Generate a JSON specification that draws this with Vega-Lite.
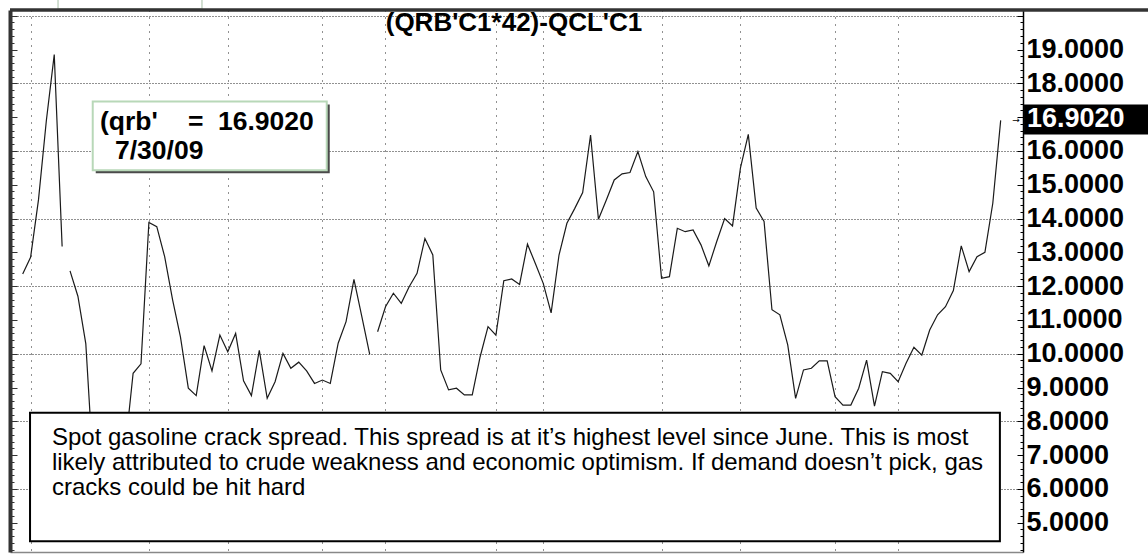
{
  "$schema": "https://vega.github.io/schema/vega-lite/v6.json",
  "width": 1013,
  "height": 542,
  "autosize": {"type": "none"},
  "padding": {"left": 10, "top": 10, "right": 125, "bottom": 3},
  "background": "white",
  "config": {"view": {"stroke": null}, "font": "Liberation Sans"},
  "datasets": {
    "spread": [
      {"i": 0, "v": 12.36, "s": "a"}, {"i": 1, "v": 12.85, "s": "a"}, {"i": 2, "v": 14.55, "s": "a"},
      {"i": 3, "v": 16.9, "s": "a"}, {"i": 4, "v": 18.85, "s": "a"}, {"i": 5, "v": 13.17, "s": "a"},
      {"i": 6, "v": 12.45, "s": "b"}, {"i": 7, "v": 11.7, "s": "b"}, {"i": 8, "v": 10.3, "s": "b"},
      {"i": 9, "v": 6.4, "s": "b"}, {"i": 10, "v": 6.3, "s": "b"}, {"i": 11, "v": 6.6, "s": "b"},
      {"i": 12, "v": 6.9, "s": "b"}, {"i": 13, "v": 7.2, "s": "b"}, {"i": 14, "v": 9.42, "s": "b"},
      {"i": 15, "v": 9.7, "s": "b"}, {"i": 16, "v": 13.88, "s": "b"}, {"i": 17, "v": 13.76, "s": "b"},
      {"i": 18, "v": 12.87, "s": "b"}, {"i": 19, "v": 11.6, "s": "b"}, {"i": 20, "v": 10.5, "s": "b"},
      {"i": 21, "v": 8.98, "s": "b"}, {"i": 22, "v": 8.76, "s": "b"}, {"i": 23, "v": 10.24, "s": "b"},
      {"i": 24, "v": 9.49, "s": "b"}, {"i": 25, "v": 10.55, "s": "b"}, {"i": 26, "v": 10.06, "s": "b"},
      {"i": 27, "v": 10.6, "s": "b"}, {"i": 28, "v": 9.2, "s": "b"}, {"i": 29, "v": 8.76, "s": "b"},
      {"i": 30, "v": 10.1, "s": "b"}, {"i": 31, "v": 8.68, "s": "b"}, {"i": 32, "v": 9.17, "s": "b"},
      {"i": 33, "v": 10.01, "s": "b"}, {"i": 34, "v": 9.57, "s": "b"}, {"i": 35, "v": 9.75, "s": "b"},
      {"i": 36, "v": 9.49, "s": "b"}, {"i": 37, "v": 9.12, "s": "b"}, {"i": 38, "v": 9.22, "s": "b"},
      {"i": 39, "v": 9.12, "s": "b"}, {"i": 40, "v": 10.31, "s": "b"}, {"i": 41, "v": 10.95, "s": "b"},
      {"i": 42, "v": 12.2, "s": "b"}, {"i": 43, "v": 11.1, "s": "b"}, {"i": 44, "v": 9.98, "s": "b"},
      {"i": 45, "v": 10.65, "s": "c"}, {"i": 46, "v": 11.39, "s": "c"}, {"i": 47, "v": 11.79, "s": "c"},
      {"i": 48, "v": 11.49, "s": "c"}, {"i": 49, "v": 11.98, "s": "c"}, {"i": 50, "v": 12.38, "s": "c"},
      {"i": 51, "v": 13.41, "s": "c"}, {"i": 52, "v": 12.92, "s": "c"}, {"i": 53, "v": 9.52, "s": "c"},
      {"i": 54, "v": 8.93, "s": "c"}, {"i": 55, "v": 8.98, "s": "c"}, {"i": 56, "v": 8.78, "s": "c"},
      {"i": 57, "v": 8.78, "s": "c"}, {"i": 58, "v": 9.91, "s": "c"}, {"i": 59, "v": 10.8, "s": "c"},
      {"i": 60, "v": 10.55, "s": "c"}, {"i": 61, "v": 12.16, "s": "c"}, {"i": 62, "v": 12.21, "s": "c"},
      {"i": 63, "v": 12.05, "s": "c"}, {"i": 64, "v": 13.24, "s": "c"}, {"i": 65, "v": 12.67, "s": "c"},
      {"i": 66, "v": 12.08, "s": "c"}, {"i": 67, "v": 11.21, "s": "c"}, {"i": 68, "v": 12.92, "s": "c"},
      {"i": 69, "v": 13.86, "s": "c"}, {"i": 70, "v": 14.3, "s": "c"}, {"i": 71, "v": 14.77, "s": "c"},
      {"i": 72, "v": 16.47, "s": "c"}, {"i": 73, "v": 13.98, "s": "c"}, {"i": 74, "v": 14.55, "s": "c"},
      {"i": 75, "v": 15.14, "s": "c"}, {"i": 76, "v": 15.32, "s": "c"}, {"i": 77, "v": 15.36, "s": "c"},
      {"i": 78, "v": 15.98, "s": "c"}, {"i": 79, "v": 15.24, "s": "c"}, {"i": 80, "v": 14.79, "s": "c"},
      {"i": 81, "v": 12.23, "s": "c"}, {"i": 82, "v": 12.28, "s": "c"}, {"i": 83, "v": 13.71, "s": "c"},
      {"i": 84, "v": 13.61, "s": "c"}, {"i": 85, "v": 13.66, "s": "c"}, {"i": 86, "v": 13.22, "s": "c"},
      {"i": 87, "v": 12.6, "s": "c"}, {"i": 88, "v": 13.32, "s": "c"}, {"i": 89, "v": 14.0, "s": "c"},
      {"i": 90, "v": 13.78, "s": "c"}, {"i": 91, "v": 15.49, "s": "c"}, {"i": 92, "v": 16.49, "s": "c"},
      {"i": 93, "v": 14.31, "s": "c"}, {"i": 94, "v": 13.91, "s": "c"}, {"i": 95, "v": 11.3, "s": "c"},
      {"i": 96, "v": 11.15, "s": "c"}, {"i": 97, "v": 10.26, "s": "c"}, {"i": 98, "v": 8.68, "s": "c"},
      {"i": 99, "v": 9.52, "s": "c"}, {"i": 100, "v": 9.57, "s": "c"}, {"i": 101, "v": 9.79, "s": "c"},
      {"i": 102, "v": 9.79, "s": "c"}, {"i": 103, "v": 8.73, "s": "c"}, {"i": 104, "v": 8.48, "s": "c"},
      {"i": 105, "v": 8.48, "s": "c"}, {"i": 106, "v": 8.98, "s": "c"}, {"i": 107, "v": 9.81, "s": "c"},
      {"i": 108, "v": 8.45, "s": "c"}, {"i": 109, "v": 9.47, "s": "c"}, {"i": 110, "v": 9.42, "s": "c"},
      {"i": 111, "v": 9.17, "s": "c"}, {"i": 112, "v": 9.72, "s": "c"}, {"i": 113, "v": 10.19, "s": "c"},
      {"i": 114, "v": 9.96, "s": "c"}, {"i": 115, "v": 10.7, "s": "c"}, {"i": 116, "v": 11.15, "s": "c"},
      {"i": 117, "v": 11.39, "s": "c"}, {"i": 118, "v": 11.87, "s": "c"}, {"i": 119, "v": 13.19, "s": "c"},
      {"i": 120, "v": 12.43, "s": "c"}, {"i": 121, "v": 12.87, "s": "c"}, {"i": 122, "v": 13.0, "s": "c"},
      {"i": 123, "v": 14.45, "s": "c"}, {"i": 124, "v": 16.902, "s": "c"}
    ]
  },
  "resolve": {"axis": {"y": "independent"}},
  "layer": [
    {
      "data": {"name": "spread"},
      "mark": {"type": "line", "color": "#1a1a1a", "strokeWidth": 1.2},
      "encoding": {
        "x": {
          "field": "i", "type": "quantitative",
          "scale": {"domain": [-1.61, 126.83], "nice": false, "zero": false},
          "axis": {
            "values": [1, 16, 26, 38, 46, 60, 66, 81, 91, 103, 111],
            "labels": false, "ticks": false, "title": null,
            "domain": true, "domainColor": "#888888", "domainWidth": 1.5,
            "grid": true, "gridColor": "#222222", "gridDash": [1, 6], "gridWidth": 1
          }
        },
        "y": {
          "field": "v", "type": "quantitative",
          "scale": {"domain": [4.133, 20.169], "nice": false, "zero": false},
          "axis": {
            "orient": "right", "title": null,
            "values": [4.2,4.4,4.6,4.8,5,5.2,5.4,5.6,5.8,6,6.2,6.4,6.6,6.8,7,7.2,7.4,7.6,7.8,8,8.2,8.4,8.6,8.8,9,9.2,9.4,9.6,9.8,10,10.2,10.4,10.6,10.8,11,11.2,11.4,11.6,11.8,12,12.2,12.4,12.6,12.8,13,13.2,13.4,13.6,13.8,14,14.2,14.4,14.6,14.8,15,15.2,15.4,15.6,15.8,16,16.2,16.4,16.6,16.8,17,17.2,17.4,17.6,17.8,18,18.2,18.4,18.6,18.8,19,19.2,19.4,19.6,19.8,20],
            "domainColor": "#000000", "domainWidth": 1.5,
            "tickColor": "#000000",
            "tickSize": {"condition": {"test": "abs(datum.value - round(datum.value)) < 0.01", "value": -6}, "value": -3},
            "labelPadding": 9,
            "labelExpr": "abs(datum.value - round(datum.value)) < 0.01 && datum.value >= 5 && datum.value <= 19 ? format(datum.value, '.4f') : ''",
            "labelFont": "Liberation Sans", "labelFontSize": 27, "labelFontWeight": "bold", "labelColor": "#000000",
            "labelOverlap": false, "labelBound": false, "labelFlush": false, "labelBaseline": "middle",
            "grid": true, "gridColor": "#222222", "gridDash": [1, 2], "gridWidth": 1,
            "gridOpacity": {"condition": {"test": "abs(datum.value / 2 - round(datum.value / 2)) < 0.01", "value": 1}, "value": 0}
          }
        },
        "detail": {"field": "s", "type": "nominal"}
      }
    },
    {
      "data": {"values": [{}]},
      "mark": {"type": "rect", "fill": "white", "stroke": "#000000", "strokeWidth": 2},
      "encoding": {
        "x": {"datum": 0.93}, "x2": {"datum": 123.9},
        "y": {
          "datum": 8.25,
          "axis": {
            "orient": "left", "title": null, "labels": false, "grid": false,
            "values": [4.2,4.4,4.6,4.8,5,5.2,5.4,5.6,5.8,6,6.2,6.4,6.6,6.8,7,7.2,7.4,7.6,7.8,8,8.2,8.4,8.6,8.8,9,9.2,9.4,9.6,9.8,10,10.2,10.4,10.6,10.8,11,11.2,11.4,11.6,11.8,12,12.2,12.4,12.6,12.8,13,13.2,13.4,13.6,13.8,14,14.2,14.4,14.6,14.8,15,15.2,15.4,15.6,15.8,16,16.2,16.4,16.6,16.8,17,17.2,17.4,17.6,17.8,18,18.2,18.4,18.6,18.8,19,19.2,19.4,19.6,19.8,20],
            "domainColor": "#333333", "domainWidth": 4,
            "tickColor": "#333333",
            "tickSize": {"condition": {"test": "abs(datum.value - round(datum.value)) < 0.01", "value": -7}, "value": -4}
          }
        },
        "y2": {"datum": 4.45}
      }
    },
    {
      "data": {"values": [{}]},
      "mark": {
        "type": "text", "align": "left", "baseline": "top",
        "font": "Liberation Sans", "fontSize": 24, "lineHeight": 25, "color": "#000000",
        "text": [
          "Spot gasoline crack spread. This spread is at it’s highest level since June. This is most",
          "likely attributed to crude weakness and economic optimism. If demand doesn’t pick, gas",
          "cracks could be hit hard"
        ]
      },
      "encoding": {"x": {"datum": 3.71}, "y": {"datum": 7.86, "axis": null}}
    },
    {
      "data": {"values": [{}]},
      "mark": {"type": "rect", "fill": "#4a4a4a", "xOffset": 3, "x2Offset": 3, "yOffset": 3, "y2Offset": 3},
      "encoding": {"x": {"datum": 8.88}, "x2": {"datum": 38.55}, "y": {"datum": 17.46, "axis": null}, "y2": {"datum": 15.43}}
    },
    {
      "data": {"values": [{}]},
      "mark": {"type": "rect", "fill": "white", "stroke": "#b8d8b8", "strokeWidth": 2},
      "encoding": {"x": {"datum": 8.88}, "x2": {"datum": 38.55}, "y": {"datum": 17.46, "axis": null}, "y2": {"datum": 15.43}}
    },
    {
      "data": {"values": [{}]},
      "mark": {"type": "text", "text": "(qrb'", "align": "left", "baseline": "alphabetic", "font": "Liberation Sans", "fontSize": 26.5, "fontWeight": "bold", "color": "#000000"},
      "encoding": {"x": {"datum": 9.8}, "y": {"datum": 16.62, "axis": null}}
    },
    {
      "data": {"values": [{}]},
      "mark": {"type": "text", "text": "=", "align": "left", "baseline": "alphabetic", "font": "Liberation Sans", "fontSize": 26.5, "fontWeight": "bold", "color": "#000000"},
      "encoding": {"x": {"datum": 20.96}, "y": {"datum": 16.62, "axis": null}}
    },
    {
      "data": {"values": [{}]},
      "mark": {"type": "text", "text": "16.9020", "align": "left", "baseline": "alphabetic", "font": "Liberation Sans", "fontSize": 26.5, "fontWeight": "bold", "color": "#000000"},
      "encoding": {"x": {"datum": 24.76}, "y": {"datum": 16.62, "axis": null}}
    },
    {
      "data": {"values": [{}]},
      "mark": {"type": "text", "text": "7/30/09", "align": "left", "baseline": "alphabetic", "font": "Liberation Sans", "fontSize": 26.5, "fontWeight": "bold", "color": "#000000"},
      "encoding": {"x": {"datum": 11.7}, "y": {"datum": 15.75, "axis": null}}
    },
    {
      "data": {"values": [{}]},
      "mark": {"type": "text", "text": "(QRB'C1*42)-QCL'C1", "align": "center", "baseline": "alphabetic", "font": "Liberation Sans", "fontSize": 26, "fontWeight": "bold", "color": "#000000"},
      "encoding": {"x": {"datum": 62.29}, "y": {"datum": 19.56, "axis": null}}
    },
    {
      "data": {"values": [{}]},
      "mark": {"type": "rect", "fill": "white", "stroke": "#c4d4c4", "strokeWidth": 1.5},
      "encoding": {"x": {"datum": 4.48}, "x2": {"datum": 22.73}, "y": {"datum": 20.5, "axis": null}, "y2": {"datum": 20.2}}
    },
    {
      "data": {"values": [{}]},
      "mark": {"type": "rule", "color": "#333333", "strokeWidth": 3.5},
      "encoding": {"x": {"datum": -1.61}, "x2": {"datum": 142.7}, "y": {"datum": 20.169, "axis": null}}
    },
    {
      "data": {"name": "spread"},
      "transform": [{"filter": "datum.i == 124"}],
      "mark": {"type": "rect", "fill": "#000000", "yOffset": -16, "y2Offset": 14},
      "encoding": {"x": {"datum": 126.96}, "x2": {"datum": 142.7}, "y": {"field": "v", "type": "quantitative", "axis": null}, "y2": {"field": "v"}}
    },
    {
      "data": {"name": "spread"},
      "transform": [{"filter": "datum.i == 124"}],
      "mark": {"type": "text", "align": "left", "baseline": "middle", "font": "Liberation Sans", "fontSize": 27, "fontWeight": "bold", "color": "#ffffff", "dy": -1},
      "encoding": {"x": {"datum": 127.33}, "y": {"field": "v", "type": "quantitative", "axis": null}, "text": {"field": "v", "type": "quantitative", "format": ".4f"}}
    },
    {
      "data": {"name": "spread"},
      "transform": [{"filter": "datum.i == 124"}],
      "mark": {"type": "text", "text": "→", "align": "center", "baseline": "middle", "font": "DejaVu Sans", "fontSize": 9, "color": "#000000"},
      "encoding": {"x": {"datum": 125.94}, "y": {"field": "v", "type": "quantitative", "axis": null}}
    }
  ]
}
